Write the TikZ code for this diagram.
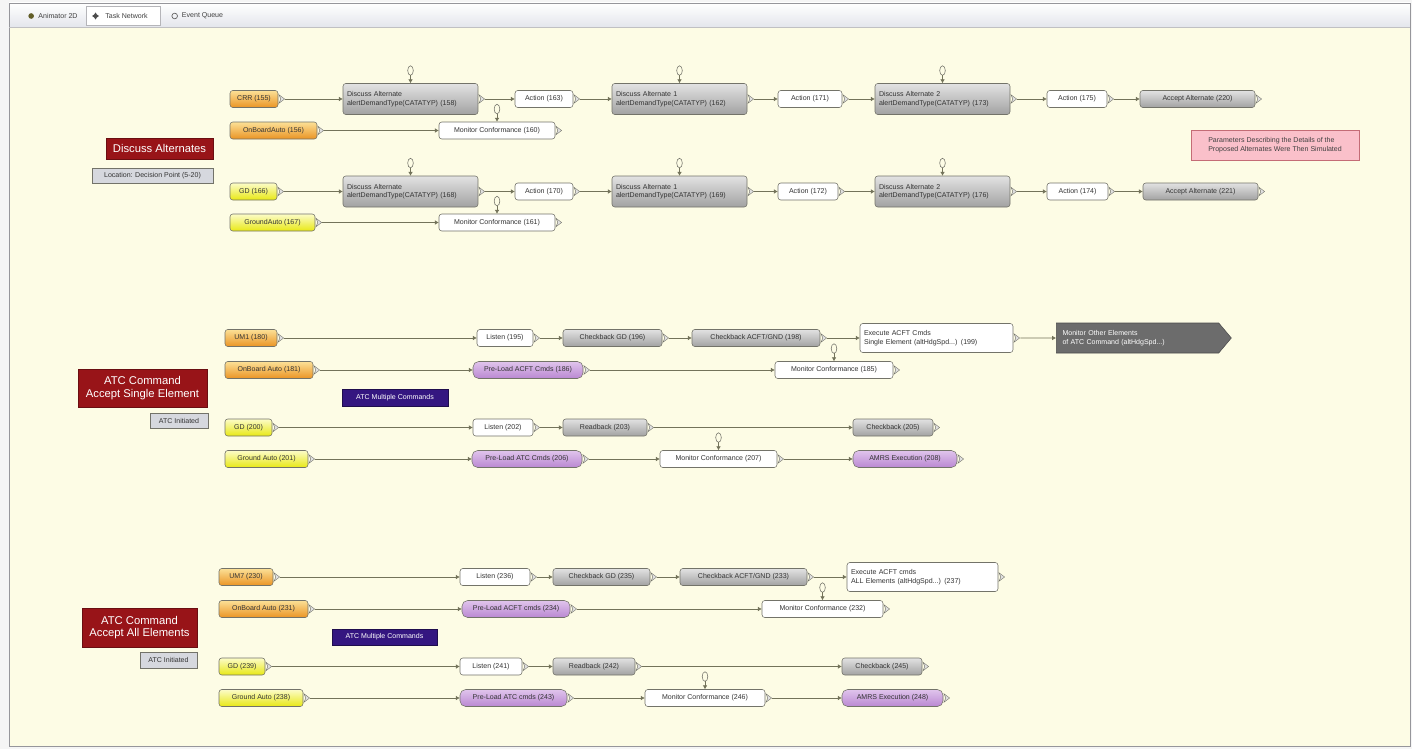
\documentclass[tikz,border=0pt]{standalone}
\usepackage{fontspec}
\setmainfont{Liberation Sans}
\usetikzlibrary{arrows.meta,shapes.symbols}

\definecolor{paper}{RGB}{253,252,229}
\definecolor{chrome}{RGB}{228,230,236}
\definecolor{frameline}{RGB}{150,150,155}
\definecolor{taskline}{RGB}{115,115,105}
\definecolor{flowline}{RGB}{115,115,90}
\definecolor{orangetop}{RGB}{252,224,150}
\definecolor{orangebot}{RGB}{234,148,36}
\definecolor{yellowtop}{RGB}{252,252,200}
\definecolor{yellowbot}{RGB}{232,232,20}
\definecolor{graytop}{RGB}{226,226,226}
\definecolor{graybot}{RGB}{162,162,162}
\definecolor{purpletop}{RGB}{224,196,236}
\definecolor{purplebot}{RGB}{186,136,210}
\definecolor{darkbox}{RGB}{108,108,108}
\definecolor{titlered}{RGB}{152,20,24}
\definecolor{multiblue}{RGB}{52,22,128}
\definecolor{notepink}{RGB}{250,192,202}
\definecolor{notered}{RGB}{196,108,118}
\definecolor{taggray}{RGB}{214,216,222}

\begin{document}
\begin{tikzpicture}[x=0.025cm,y=-0.025cm,
    font=\fontsize{5}{6}\selectfont,
    wd/.style={minimum width=#1*0.025cm},
    ht/.style={minimum height=#1*0.025cm},
    tw/.style={text width=#1*0.025cm},
    flow/.style={draw=flowline,line width=0.5pt,-{Latex[length=2.8pt,width=3.4pt]}},
    portmark/.style={draw=taskline,fill=graytop,line width=0.3pt,sharp corners},
    task/.style={draw=taskline,line width=0.4pt,rounded corners=2pt,inner xsep=2pt,inner ysep=1pt,
      minimum height=17*0.025cm,text=black!80,align=left,
      append after command={\pgfextra{\draw[portmark] ([xshift=0.5pt,yshift=3pt]\tikzlastnode.east)
        -- ++(4pt,-3pt) -- ++(-4pt,-3pt) -- ++(1.3pt,3pt) -- cycle;}}},
    looped/.style={append after command={\pgfextra{
      \draw[draw=taskline,line width=0.4pt] ([yshift=9pt]\tikzlastnode.north) ellipse [x radius=2pt,y radius=3.4pt];
      \draw[flow] ([yshift=5.6pt]\tikzlastnode.north) -- (\tikzlastnode.north);}}},
    human/.style={task,top color=orangetop,bottom color=orangebot},
    ground/.style={task,top color=yellowtop,bottom color=yellowbot},
    grey/.style={task,top color=graytop,bottom color=graybot},
    plain/.style={task,fill=white},
    preload/.style={task,rounded corners=4pt,top color=purpletop,bottom color=purplebot},
    title/.style={fill=titlered,draw=titlered!70!black,text=white,align=center,inner sep=1pt,
      font=\fontsize{8}{9}\selectfont},
    tag/.style={draw=taskline,fill=taggray,text=black!80,inner sep=1pt},
    multi/.style={fill=multiblue,draw=multiblue!60!black,text=white,inner sep=1pt},
    tab/.style={text=black!75,inner sep=1pt,minimum height=19*0.025cm}]

\useasboundingbox (0,0) rectangle (1412,749);

% Window
\fill[white!96!black] (0,0) rectangle (1412,749);
\fill[paper] (9,27) rectangle (1410,746);
\fill[top color=white,bottom color=chrome] (9,3) rectangle (1410,27);
\draw[frameline] (9,3) rectangle (1410,746);
\draw[frameline!60] (9,27) -- (1410,27);
\node[tab] (tab-anim) at (58,16) {Animator 2D};
\node[tab,fill=white,draw=frameline!70,wd=74] (tab-net) at (123,16) {\quad Task Network};
\node[tab] (tab-queue) at (199,16) {\quad Event Queue};
\fill[olive!60!black] ([xshift=-4pt]tab-anim.west) circle (2pt);
\fill[black!70] ([xshift=7pt]tab-net.west) ++(0,2.5pt) -- ++(1pt,-1.5pt) -- ++(1.5pt,-1pt) -- ++(-1.5pt,-1pt)
  -- ++(-1pt,-1.5pt) -- ++(-1pt,1.5pt) -- ++(-1.5pt,1pt) -- ++(1.5pt,1pt) -- cycle;
\draw[black!60,line width=0.5pt] ([xshift=1pt]tab-queue.west) circle (2pt);

% Discuss alternates
\node[title,wd=107,ht=21] (d-title) at (159.5,148.5) {Discuss Alternates};
\node[tag,wd=121,ht=15] (d-loc) at (152.5,175.5) {Location: Decision Point (5-20)};
\node[draw=notered,fill=notepink,text=black!75,align=left,inner sep=2pt,wd=168,ht=30] (d-note) at (1275,145)
  {Parameters Describing the Details of the\\Proposed Alternates Were Then Simulated};

\node[human,wd=48] (d-um) at (254,99) {CRR (155)};
\node[grey,looped,wd=135,ht=31,tw=127] (d-disc1) at (410.5,99) {Discuss Alternate\\alertDemandType(CATATYP) (158)};
\node[plain,wd=58] (d-act1) at (544,99) {Action (163)};
\node[grey,looped,wd=135,ht=31,tw=127] (d-disc2) at (679.5,99) {Discuss Alternate 1\\alertDemandType(CATATYP) (162)};
\node[plain,wd=64] (d-act2) at (810,99) {Action (171)};
\node[grey,looped,wd=135,ht=31,tw=127] (d-disc3) at (942.5,99) {Discuss Alternate 2\\alertDemandType(CATATYP) (173)};
\node[plain,wd=60] (d-act3) at (1077,99) {Action (175)};
\node[grey,wd=115] (d-acc1) at (1197.5,99) {Accept Alternate (220)};

\node[human,wd=87] (d-oba) at (273.5,130.5) {OnBoardAuto (156)};
\node[plain,looped,wd=116] (d-mon1) at (497,130.5) {Monitor Conformance (160)};

\node[ground,wd=47] (d-gd) at (253.5,191.5) {GD (166)};
\node[grey,looped,wd=135,ht=31,tw=127] (d-disc4) at (410.5,191.5) {Discuss Alternate\\alertDemandType(CATATYP) (168)};
\node[plain,wd=58] (d-act4) at (544,191.5) {Action (170)};
\node[grey,looped,wd=135,ht=31,tw=127] (d-disc5) at (679.5,191.5) {Discuss Alternate 1\\alertDemandType(CATATYP) (169)};
\node[plain,wd=60] (d-act5) at (808,191.5) {Action (172)};
\node[grey,looped,wd=135,ht=31,tw=127] (d-disc6) at (942.5,191.5) {Discuss Alternate 2\\alertDemandType(CATATYP) (176)};
\node[plain,wd=61] (d-act6) at (1077.5,191.5) {Action (174)};
\node[grey,wd=115] (d-acc2) at (1200.5,191.5) {Accept Alternate (221)};

\node[ground,wd=85] (d-gauto) at (272.5,222.5) {GroundAuto (167)};
\node[plain,looped,wd=116] (d-mon2) at (497,222.5) {Monitor Conformance (161)};

\draw[flow] ([xshift=5pt]d-um.east) -- (d-disc1);
\draw[flow] ([xshift=5pt]d-disc1.east) -- (d-act1);
\draw[flow] ([xshift=5pt]d-act1.east) -- (d-disc2);
\draw[flow] ([xshift=5pt]d-disc2.east) -- (d-act2);
\draw[flow] ([xshift=5pt]d-act2.east) -- (d-disc3);
\draw[flow] ([xshift=5pt]d-disc3.east) -- (d-act3);
\draw[flow] ([xshift=5pt]d-act3.east) -- (d-acc1);
\draw[flow] ([xshift=5pt]d-oba.east) -- (d-mon1);
\draw[flow] ([xshift=5pt]d-gd.east) -- (d-disc4);
\draw[flow] ([xshift=5pt]d-disc4.east) -- (d-act4);
\draw[flow] ([xshift=5pt]d-act4.east) -- (d-disc5);
\draw[flow] ([xshift=5pt]d-disc5.east) -- (d-act5);
\draw[flow] ([xshift=5pt]d-act5.east) -- (d-disc6);
\draw[flow] ([xshift=5pt]d-disc6.east) -- (d-act6);
\draw[flow] ([xshift=5pt]d-act6.east) -- (d-acc2);
\draw[flow] ([xshift=5pt]d-gauto.east) -- (d-mon2);

% ATC command, single element
\node[title,wd=129,ht=38] (s-title) at (142.5,388) {ATC Command\\Accept Single Element};
\node[tag,wd=58,ht=15] (s-init) at (179,420.5) {ATC Initiated};
\node[multi,wd=106,ht=17] (s-multi) at (395,397.5) {ATC Multiple Commands};

\node[human,wd=52] (s-um) at (251,338) {UM1 (180)};
\node[plain,wd=56] (s-lis1) at (505,338) {Listen (195)};
\node[grey,wd=99] (s-chk1) at (612.5,338) {Checkback GD (196)};
\node[grey,wd=128] (s-chka) at (756,338) {Checkback ACFT/GND (198)};
\node[plain,wd=153,ht=29,tw=145] (s-exec) at (936.5,338) {Execute ACFT Cmds\\Single Element (altHdgSpd...) (199)};
\node[shape=signal,signal to=east,signal pointer angle=100,fill=darkbox,draw=darkbox!70!black,text=white,
  align=left,inner sep=1.5pt,wd=175,ht=30,tw=150] (s-other) at (1137.5,338)
  {Monitor Other Elements\\of ATC Command (altHdgSpd...)};

\node[human,wd=88] (s-oba) at (269,370) {OnBoard Auto (181)};
\node[preload,wd=110] (s-pre1) at (528,370) {Pre-Load ACFT Cmds (186)};
\node[plain,looped,wd=118] (s-mon1) at (834,370) {Monitor Conformance (185)};

\node[ground,wd=47] (s-gd) at (248.5,427.5) {GD (200)};
\node[plain,wd=60] (s-lis2) at (503,427.5) {Listen (202)};
\node[grey,wd=84] (s-read) at (605,427.5) {Readback (203)};
\node[grey,wd=80] (s-chk2) at (893,427.5) {Checkback (205)};

\node[ground,wd=83] (s-gauto) at (266.5,459) {Ground Auto (201)};
\node[preload,wd=110] (s-pre2) at (527,459) {Pre-Load ATC Cmds (206)};
\node[plain,looped,wd=117] (s-mon2) at (718.5,459) {Monitor Conformance (207)};
\node[preload,wd=104] (s-amrs) at (905,459) {AMRS Execution (208)};

\draw[flow] ([xshift=5pt]s-um.east) -- (s-lis1);
\draw[flow] ([xshift=5pt]s-lis1.east) -- (s-chk1);
\draw[flow] ([xshift=5pt]s-chk1.east) -- (s-chka);
\draw[flow] ([xshift=5pt]s-chka.east) -- (s-exec);
\draw[flow] ([xshift=5pt]s-exec.east) -- (s-other);
\draw[flow] ([xshift=5pt]s-oba.east) -- (s-pre1);
\draw[flow] ([xshift=5pt]s-pre1.east) -- (s-mon1);
\draw[flow] ([xshift=5pt]s-gd.east) -- (s-lis2);
\draw[flow] ([xshift=5pt]s-lis2.east) -- (s-read);
\draw[flow] ([xshift=5pt]s-read.east) -- (s-chk2);
\draw[flow] ([xshift=5pt]s-gauto.east) -- (s-pre2);
\draw[flow] ([xshift=5pt]s-pre2.east) -- (s-mon2);
\draw[flow] ([xshift=5pt]s-mon2.east) -- (s-amrs);

% ATC command, all elements
\node[title,wd=115,ht=39] (a-title) at (139.5,627.5) {ATC Command\\Accept All Elements};
\node[tag,wd=57,ht=16] (a-init) at (168.5,660) {ATC Initiated};
\node[multi,wd=105,ht=16] (a-multi) at (384.5,637) {ATC Multiple Commands};

\node[human,wd=54] (a-um) at (246,577) {UM7 (230)};
\node[plain,wd=70] (a-lis1) at (495,577) {Listen (236)};
\node[grey,wd=97] (a-chk1) at (601.5,577) {Checkback GD (235)};
\node[grey,wd=127] (a-chka) at (743.5,577) {Checkback ACFT/GND (233)};
\node[plain,wd=151,ht=29,tw=143] (a-exec) at (922.5,577) {Execute ACFT cmds\\ALL Elements (altHdgSpd...) (237)};

\node[human,wd=89] (a-oba) at (263.5,609) {OnBoard Auto (231)};
\node[preload,wd=108] (a-pre1) at (516,609) {Pre-Load ACFT cmds (234)};
\node[plain,looped,wd=121] (a-mon1) at (822.5,609) {Monitor Conformance (232)};

\node[ground,wd=46] (a-gd) at (242,666.5) {GD (239)};
\node[plain,wd=62] (a-lis2) at (491,666.5) {Listen (241)};
\node[grey,wd=82] (a-read) at (594,666.5) {Readback (242)};
\node[grey,wd=80] (a-chk2) at (882,666.5) {Checkback (245)};

\node[ground,wd=84] (a-gauto) at (261,698) {Ground Auto (238)};
\node[preload,wd=107] (a-pre2) at (513.5,698) {Pre-Load ATC cmds (243)};
\node[plain,looped,wd=120] (a-mon2) at (705,698) {Monitor Conformance (246)};
\node[preload,wd=101] (a-amrs) at (892.5,698) {AMRS Execution (248)};

\draw[flow] ([xshift=5pt]a-um.east) -- (a-lis1);
\draw[flow] ([xshift=5pt]a-lis1.east) -- (a-chk1);
\draw[flow] ([xshift=5pt]a-chk1.east) -- (a-chka);
\draw[flow] ([xshift=5pt]a-chka.east) -- (a-exec);
\draw[flow] ([xshift=5pt]a-oba.east) -- (a-pre1);
\draw[flow] ([xshift=5pt]a-pre1.east) -- (a-mon1);
\draw[flow] ([xshift=5pt]a-gd.east) -- (a-lis2);
\draw[flow] ([xshift=5pt]a-lis2.east) -- (a-read);
\draw[flow] ([xshift=5pt]a-read.east) -- (a-chk2);
\draw[flow] ([xshift=5pt]a-gauto.east) -- (a-pre2);
\draw[flow] ([xshift=5pt]a-pre2.east) -- (a-mon2);
\draw[flow] ([xshift=5pt]a-mon2.east) -- (a-amrs);
\end{tikzpicture}
\end{document}
